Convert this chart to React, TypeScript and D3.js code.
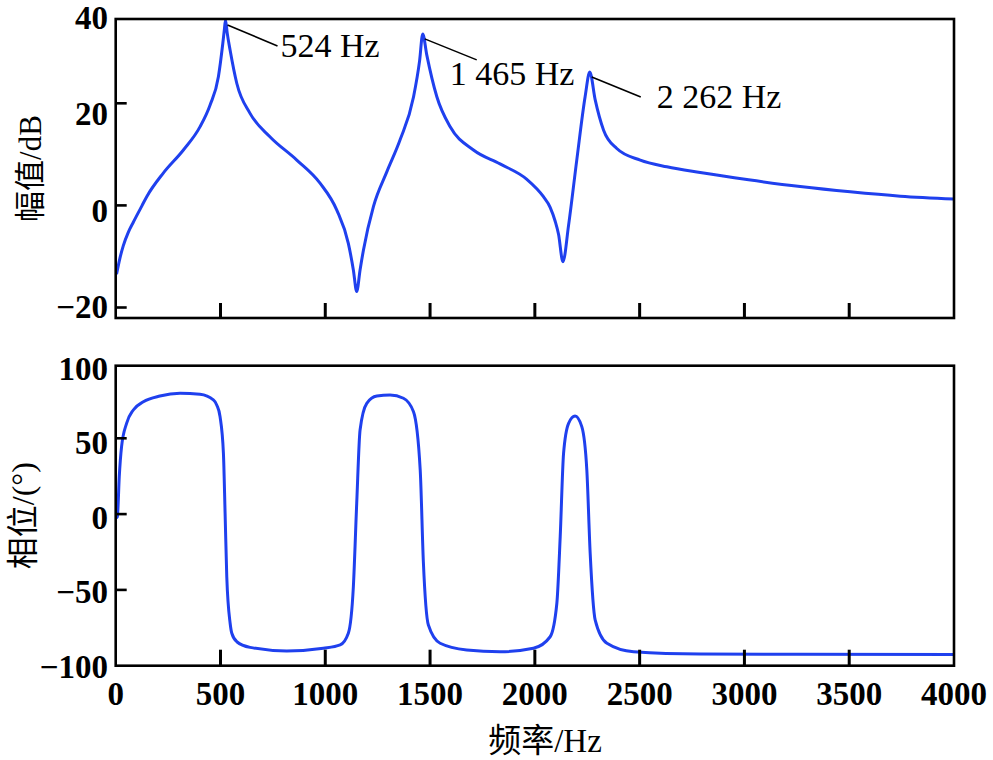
import React from "react";
import * as d3 from "d3";

// ---------- data ----------
const magFreq = [4, 20, 36, 60, 84, 125, 148, 227, 323, 402, 450, 490, 511, 518, 524, 532, 546, 578, 641, 737, 864, 975, 1055, 1110, 1134, 1150, 1166, 1182, 1230, 1294, 1357, 1421, 1450, 1465, 1484, 1532, 1596, 1707, 1834, 1962, 2041, 2073, 2097, 2113, 2134, 2161, 2200, 2240, 2262, 2288, 2328, 2391, 2503, 2630, 2789, 3020, 3266, 3505, 3744, 4000];
const magDb = [-13.3, -10.0, -7.4, -4.6, -2.5, 0.9, 2.8, 7.7, 12.5, 17.3, 21.8, 27.7, 34.6, 37.3, 39.5, 36.8, 33.2, 26.3, 20.1, 15.2, 10.4, 5.6, 0.0, -6.9, -12.4, -16.9, -12.4, -8.3, 0.8, 8.0, 14.6, 23.5, 31.0, 36.6, 32.3, 23.6, 17.3, 12.5, 9.6, 6.4, 2.8, 0.6, -2.3, -5.0, -10.7, -3.1, 10.4, 23.6, 28.7, 22.9, 16.6, 12.8, 10.4, 9.0, 7.8, 6.3, 4.9, 3.8, 2.9, 2.3];

const phaseFreq = [0, 8, 17, 28, 52, 84, 132, 211, 307, 402, 466, 482, 498, 514, 522, 530, 546, 554, 578, 641, 816, 991, 1071, 1110, 1134, 1150, 1166, 1198, 1246, 1309, 1373, 1421, 1453, 1468, 1492, 1548, 1675, 1834, 1993, 2073, 2105, 2121, 2137, 2161, 2192, 2224, 2248, 2264, 2288, 2344, 2471, 2789, 4000];
const phaseDeg = [-2.6, -1.7, 24.7, 44.5, 59.9, 68.7, 74.1, 77.9, 79.7, 79.0, 75.3, 72.0, 64.2, 40.1, 0.5, -41.3, -72.0, -78.6, -84.2, -87.9, -90.3, -88.5, -86.3, -78.6, -47.9, 7.1, 55.5, 73.1, 77.9, 78.6, 76.4, 67.5, 29.1, -31.4, -73.2, -85.2, -89.6, -90.8, -88.5, -80.9, -58.8, -14.9, 40.1, 59.9, 64.7, 57.7, 29.1, -25.9, -69.9, -85.2, -90.8, -92.3, -92.6];

const xTicks = [0, 500, 1000, 1500, 2000, 2500, 3000, 3500, 4000];
const magTicks = [-20, 0, 20, 40];
const phaseTicks = [-100, -50, 0, 50, 100];

const peakFreqs = [524, 1465, 2262];
const peakLabels = ["524 Hz", "1 465 Hz", "2 262 Hz"];

const magTitle = "幅值/dB";
const phaseTitle = "相位/(°)";
const xTitle = "频率/Hz";

// ---------- layout ----------
const W = 993;
const H = 760;
const X0 = 115.7;
const X1 = 954;
const TOP_Y0 = 19;
const TOP_Y1 = 318;
const BOT_Y0 = 365.7;
const BOT_Y1 = 665.7;
const BLUE = "#1f40ee";
const FONT = "'Liberation Serif', 'Times New Roman', 'Noto Sans CJK SC', serif";

const fmt = (v: number) => (v < 0 ? "\u2212" + Math.abs(v) : String(v));

export default function App() {
  const x = d3.scaleLinear().domain([0, 4000]).range([X0, X1]);

  // magnitude scales: data/labels and tick marks
  const magY = d3.scaleLinear().domain([-20, 40]).range([306.5, 17.5]);
  const magTickY = d3.scaleLinear().domain([-20, 20]).range([307.5, 103.3]);
  // phase scales
  const phY = d3.scaleLinear().domain([-100, 100]).range([665.7, 362.5]);
  const phLabelY = d3.scaleLinear().domain([-100, 100]).range([666.5, 368]);

  const magPts: [number, number][] = magFreq.map((f, i) => [f, magDb[i]]);
  const phPts: [number, number][] = phaseFreq.map((f, i) => [f, phaseDeg[i]]);

  const magLine = d3
    .line<[number, number]>()
    .x((d) => x(d[0]))
    .y((d) => magY(d[1]))
    .curve(d3.curveMonotoneX);
  const phLine = d3
    .line<[number, number]>()
    .x((d) => x(d[0]))
    .y((d) => phY(d[1]))
    .curve(d3.curveMonotoneX);

  const innerX = xTicks.filter((t) => t > 0 && t < 4000);

  const leaderOffsets = [
    { dx: 50, dy: 21, tx: 55, ty: 32 },
    { dx: 52, dy: 21, tx: 27, ty: 46 },
    { dx: 49, dy: 20, tx: 67, ty: 31 },
  ];

  return (
    <svg
      width={W}
      height={H}
      viewBox={`0 0 ${W} ${H}`}
      style={{ position: "absolute", left: 0, top: 0, display: "block", background: "#fff" }}
      fontFamily={FONT}
    >
      <rect x={0} y={0} width={W} height={H} fill="#fff" />

      {/* ---------- top panel ---------- */}
      <path d={magLine(magPts) || ""} fill="none" stroke={BLUE} strokeWidth={3} strokeLinejoin="round" />
      <rect x={X0} y={TOP_Y0} width={X1 - X0} height={TOP_Y1 - TOP_Y0} fill="none" stroke="#000" strokeWidth={2.6} />
      {magTicks
        .filter((t) => t < 40)
        .map((t) => (
          <line key={"mt" + t} x1={X0} x2={X0 + 11} y1={magTickY(t)} y2={magTickY(t)} stroke="#000" strokeWidth={2.6} />
        ))}
      {innerX.map((t) => (
        <line key={"tx" + t} x1={x(t)} x2={x(t)} y1={TOP_Y1} y2={TOP_Y1 - 15} stroke="#000" strokeWidth={3} />
      ))}
      {magTicks.map((t) => (
        <text key={"ml" + t} x={108} y={magY(t)} dy="0.35em" textAnchor="end" fontSize={33} fontWeight="bold">
          {fmt(t)}
        </text>
      ))}
      <text
        transform={`translate(30, ${(TOP_Y0 + TOP_Y1) / 2}) rotate(-90)`}
        textAnchor="middle"
        dy="0.35em"
        fontSize={31}
      >
        {magTitle}
      </text>

      {/* annotations */}
      {peakFreqs.map((f, i) => {
        const idx = magFreq.indexOf(f);
        const px = x(f);
        const py = magY(magDb[idx]);
        const o = leaderOffsets[i];
        return (
          <g key={"pk" + f}>
            <line x1={px + 2} y1={py + 5} x2={px + 2 + o.dx} y2={py + 5 + o.dy} stroke="#000" strokeWidth={1.6} />
            <text x={px + o.tx} y={py + o.ty + 5} fontSize={34}>
              {peakLabels[i]}
            </text>
          </g>
        );
      })}

      {/* ---------- bottom panel ---------- */}
      <path d={phLine(phPts) || ""} fill="none" stroke={BLUE} strokeWidth={3} strokeLinejoin="round" />
      <rect x={X0} y={BOT_Y0} width={X1 - X0} height={BOT_Y1 - BOT_Y0} fill="none" stroke="#000" strokeWidth={2.6} />
      {phaseTicks
        .filter((t) => t > -100 && t < 100)
        .map((t) => (
          <line key={"pt" + t} x1={X0} x2={X0 + 11} y1={phY(t)} y2={phY(t)} stroke="#000" strokeWidth={2.6} />
        ))}
      {innerX.map((t) => (
        <line key={"bx" + t} x1={x(t)} x2={x(t)} y1={BOT_Y1} y2={BOT_Y1 - 16} stroke="#000" strokeWidth={3} />
      ))}
      {phaseTicks.map((t) => (
        <text key={"pl" + t} x={108} y={phLabelY(t)} dy="0.35em" textAnchor="end" fontSize={33} fontWeight="bold">
          {fmt(t)}
        </text>
      ))}
      {xTicks.map((t) => (
        <text key={"xl" + t} x={x(t)} y={705} textAnchor="middle" fontSize={33} fontWeight="bold">
          {t}
        </text>
      ))}
      <text
        transform={`translate(23, ${(BOT_Y0 + BOT_Y1) / 2}) rotate(-90)`}
        textAnchor="middle"
        dy="0.35em"
        fontSize={32}
      >
        {phaseTitle}
      </text>
      <text x={545} y={752} textAnchor="middle" fontSize={33}>
        {xTitle}
      </text>
    </svg>
  );
}
